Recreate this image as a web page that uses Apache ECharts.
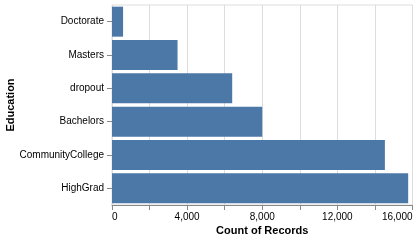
<!DOCTYPE html>
<html>
<head>
<meta charset="utf-8">
<script src="https://cdn.jsdelivr.net/npm/echarts@6/dist/echarts.min.js"></script>
<style>html,body{margin:0;padding:0;background:#fff}#c{width:418px;height:242px}</style>
</head>
<body>
<div id="c"></div>
<script>
const categories = ['Doctorate', 'Masters', 'dropout', 'Bachelors', 'CommunityCollege', 'HighGrad'];
const counts = [590, 3490, 6400, 8000, 14530, 15770];
const xTicks = [0, 4000, 8000, 12000, 16000];

const chart = echarts.init(document.getElementById('c'), null, {renderer: 'canvas'});
const font = 'Liberation Sans, Arial, sans-serif';
chart.setOption({
  animation: false,
  grid: {left: 112, right: 5.5, top: 5, bottom: 37, containLabel: false, outerBoundsMode: 'none',
    show: true, borderColor: '#ddd', borderWidth: 1, backgroundColor: 'transparent'},
  xAxis: {
    type: 'value', min: 0, max: 16000, interval: 2000,
    name: 'Count of Records', nameLocation: 'middle', nameGap: 20, nameMoveOverlap: false,
    nameTextStyle: {fontFamily: font, fontSize: 11, fontWeight: 'bold', color: '#000'},
    axisLine: {show: true, lineStyle: {color: '#888', width: 1}},
    axisTick: {show: true, length: 5, lineStyle: {color: '#888'}},
    splitLine: {show: true, lineStyle: {color: '#ddd', width: 1}},
    axisLabel: {
      margin: 7, fontFamily: font, fontSize: 10, color: '#000', hideOverlap: false,
      alignMinLabel: 'left', alignMaxLabel: 'right',
      formatter: v => xTicks.includes(v) ? v.toLocaleString('en-US') : ''
    }
  },
  yAxis: {
    type: 'category', data: categories, inverse: true,
    name: 'Education', nameLocation: 'middle', nameGap: 96, nameRotate: 90, nameMoveOverlap: false,
    nameTextStyle: {fontFamily: font, fontSize: 11, fontWeight: 'bold', color: '#000'},
    axisLine: {show: false},
    axisTick: {show: true, length: 5, alignWithLabel: true, lineStyle: {color: '#888'}},
    axisLabel: {margin: 8, fontFamily: font, fontSize: 10, color: '#000'},
    splitLine: {show: false}
  },
  series: [{
    type: 'bar', data: counts, barCategoryGap: '10%',
    itemStyle: {color: '#4c78a8'}
  }]
});
</script>
</body>
</html>
